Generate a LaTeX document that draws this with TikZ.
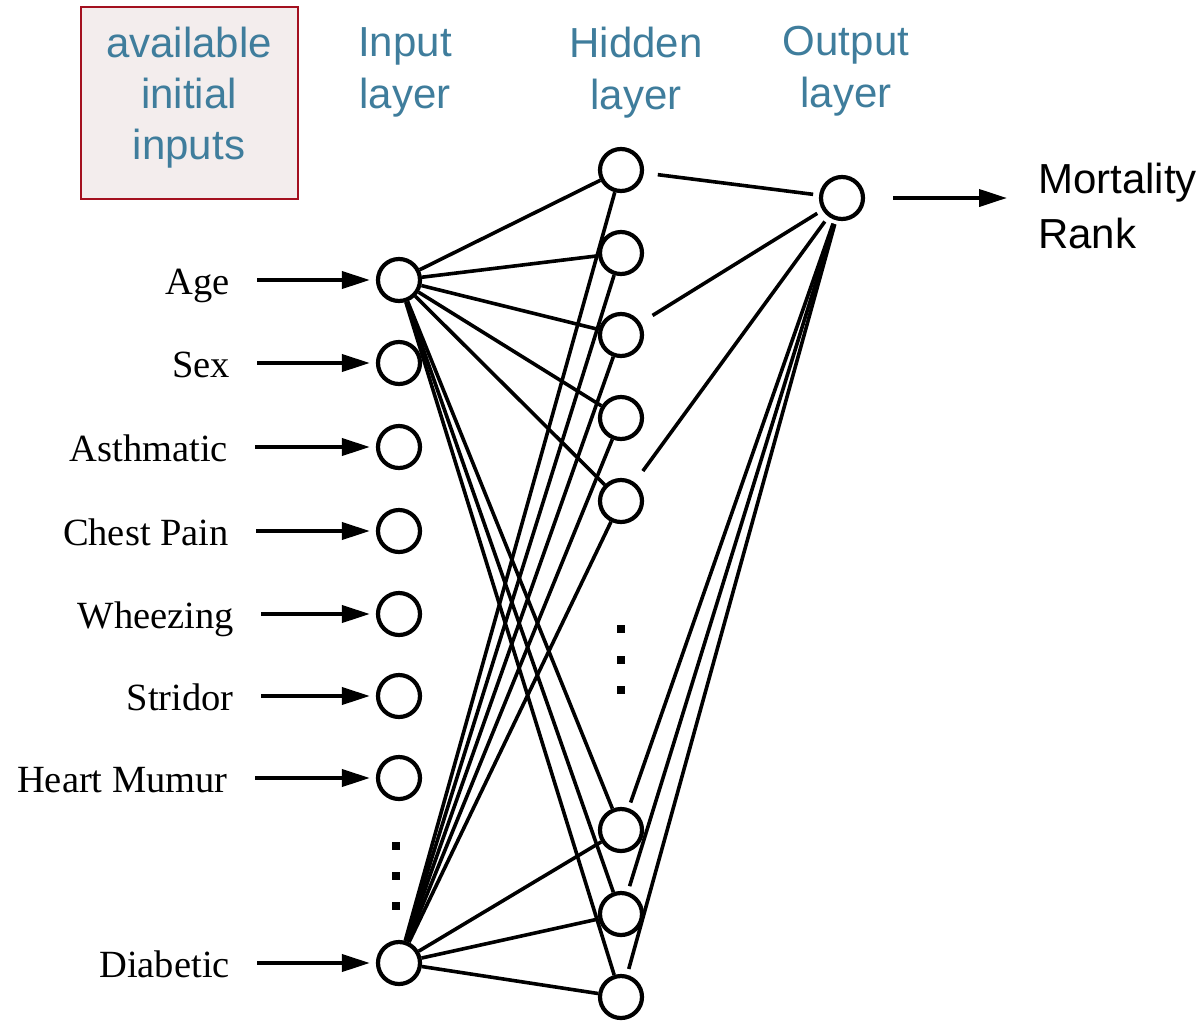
\documentclass[tikz,border=0pt]{standalone}
\usepackage{fontspec}
\setmainfont{Liberation Serif}
\newfontfamily\headsans{Liberation Sans}
\usetikzlibrary{arrows.meta}
\definecolor{headblue}{HTML}{3F7D9C}
\definecolor{boxfill}{HTML}{F3EDED}
\definecolor{boxline}{HTML}{A3101F}
\begin{document}
\begin{tikzpicture}[x=1pt,y=-1pt,
  neuron/.style={circle, draw, line width=4.2pt, minimum size=42pt, inner sep=0pt},
  link/.style={line width=3.6pt},
  feed/.style={line width=3.8pt, -{Triangle[length=28pt,width=17pt]}},
  inlabel/.style={font=\fontsize{38.5}{40}\selectfont, anchor=base east, inner sep=0pt},
  header/.style={font=\headsans\fontsize{42}{52}\selectfont, text=headblue,
                 align=center, anchor=north, inner sep=0pt},
  dotsq/.style={fill, minimum size=8pt, inner sep=0pt}]
\useasboundingbox (0,0) rectangle (1204,1021);

% boxed caption and layer headers
\node[draw=boxline, fill=boxfill, line width=2pt, minimum width=217pt,
      minimum height=192pt, inner sep=0pt] (availbox) at (189.5,103) {};
\node[header, font=\headsans\fontsize{42}{51}\selectfont] (avail) at (189,27)
      {available\\initial\\inputs};
\node[header] (hin)  at (405,27) {Input\\layer};
\node[header] (hhid) at (636,27) {Hidden\\layer};
\node[header] (hout) at (846,26) {Output\\layer};

% input layer
\node[neuron] (i1) at (399,280) {};
\node[neuron] (i2) at (399,363) {};
\node[neuron] (i3) at (399,447) {};
\node[neuron] (i4) at (399,531) {};
\node[neuron] (i5) at (399,614) {};
\node[neuron] (i6) at (399,696) {};
\node[neuron] (i7) at (399,778) {};
\node[neuron] (i8) at (399,963) {};
\node[dotsq] (di1) at (396,846) {};
\node[dotsq] (di2) at (396,876) {};
\node[dotsq] (di3) at (396,906) {};

% input names
\node[inlabel] (l1) at (230,294) {Age};
\node[inlabel] (l2) at (230,377) {Sex};
\node[inlabel] (l3) at (228,461) {Asthmatic};
\node[inlabel] (l4) at (229,545) {Chest Pain};
\node[inlabel] (l5) at (234,628) {Wheezing};
\node[inlabel] (l6) at (234,710) {Stridor};
\node[inlabel] (l7) at (228,792) {Heart Mumur};
\node[inlabel] (l8) at (230,977) {Diabetic};

% hidden layer
\node[neuron] (h1) at (621,170) {};
\node[neuron] (h2) at (621,253) {};
\node[neuron] (h3) at (621,335) {};
\node[neuron] (h4) at (621,418) {};
\node[neuron] (h5) at (621,501) {};
\node[neuron] (h6) at (621,830) {};
\node[neuron] (h7) at (621,914) {};
\node[neuron] (h8) at (621,997) {};
\node[dotsq] (dh1) at (621,629) {};
\node[dotsq] (dh2) at (621,660) {};
\node[dotsq] (dh3) at (621,690) {};

% output layer
\node[neuron] (out) at (842,198) {};
\node[font=\headsans\fontsize{42}{55}\selectfont, align=left, anchor=north west,
      inner sep=0pt] (rank) at (1038,163) {Mortality\\Rank};

% inputs fed into the network
\foreach \k in {1,...,8}
  \draw[feed, shorten <=27pt, shorten >=6pt] (l\k.east |- i\k) -- (i\k);
\draw[feed, shorten <=28pt, shorten >=31pt] (out) -- (rank.west |- out);

% weights: input to hidden
\foreach \h in {1,...,8} {
  \draw[link] (i1) -- (h\h);
  \draw[link] (i8) -- (h\h);
}

% weights: hidden to output
\foreach \h in {1,3,5}
  \draw[link, shorten <=14pt, shorten >=6pt] (h\h) -- (out);
\foreach \h in {6,7,8}
  \draw[link, shorten <=6pt, shorten >=4pt] (h\h) -- (out);
\end{tikzpicture}
\end{document}
